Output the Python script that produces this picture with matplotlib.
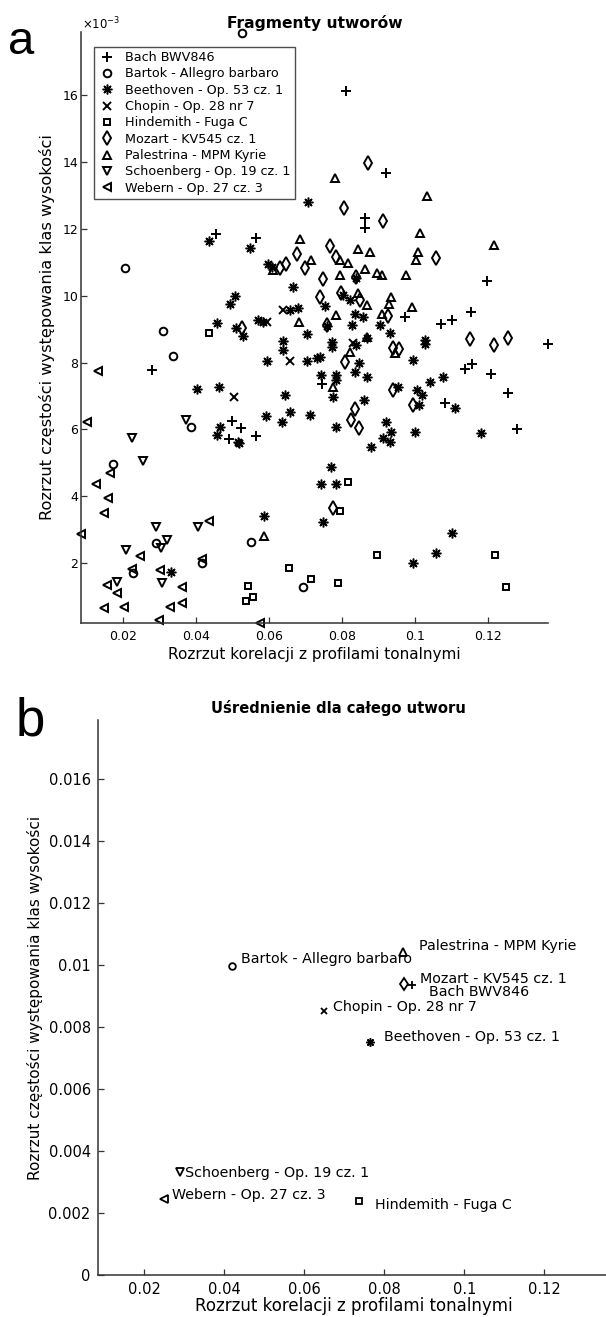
import matplotlib
matplotlib.use("Agg")
import matplotlib.pyplot as plt
from matplotlib.ticker import FuncFormatter, FixedLocator

plt.rcParams['font.family'] = ['DejaVu Sans']

# ---------------- data: panel a (y in units of 1e-3) ----------------
series_names = ["Bach BWV846", "Bartok - Allegro barbaro", "Beethoven - Op. 53 cz. 1",
                "Chopin - Op. 28 nr 7", "Hindemith - Fuga C", "Mozart - KV545 cz. 1",
                "Palestrina - MPM Kyrie", "Schoenberg - Op. 19 cz. 1", "Webern - Op. 27 cz. 3"]

bach_x = [0.0811, 0.0922, 0.0864, 0.0864, 0.1198, 0.1155, 0.1101, 0.1071, 0.0973, 0.0455,
          0.0566, 0.0279, 0.0499, 0.0523, 0.0490, 0.0566, 0.1365, 0.1137, 0.1158, 0.1208,
          0.1256, 0.1281, 0.1084, 0.0746]
bach_y = [16.13, 13.68, 12.31, 12.02, 10.44, 9.50, 9.27, 9.15, 9.37, 11.84,
          11.72, 7.78, 6.26, 6.03, 5.70, 5.80, 8.55, 7.80, 7.95, 7.65,
          7.08, 6.00, 6.78, 7.36]

bartok_x = [0.0527, 0.0205, 0.0309, 0.0336, 0.0386, 0.0173, 0.0290, 0.0227, 0.0418, 0.0551, 0.0694]
bartok_y = [17.85, 10.82, 8.94, 8.20, 6.06, 4.96, 2.59, 1.70, 1.99, 2.64, 1.30]

beet_x = [0.0706, 0.0436, 0.0548, 0.0597, 0.0608, 0.0667, 0.0507, 0.0493, 0.0459, 0.0510,
          0.0530, 0.0571, 0.0584, 0.0705, 0.0639, 0.0639, 0.0596, 0.0705, 0.0731, 0.0740,
          0.0772, 0.0772, 0.0829, 0.0847, 0.0836, 0.0868, 0.0742, 0.0783, 0.0783, 0.0776,
          0.0861, 0.0644, 0.0404, 0.0464, 0.0658, 0.0591, 0.0635, 0.0712, 0.0785, 0.0466,
          0.0457, 0.0516, 0.0519, 0.0760, 0.0932, 0.1027, 0.1027, 0.0995, 0.0954, 0.1006,
          0.1021, 0.1041, 0.1078, 0.1012, 0.1111, 0.0922, 0.0936, 0.0913, 0.0932, 0.1000,
          0.0881, 0.1181, 0.0770, 0.0742, 0.0785, 0.0747, 0.0994, 0.1059, 0.1101, 0.0587,
          0.0333, 0.0904, 0.0840, 0.0658, 0.0680, 0.0804, 0.0822, 0.0753, 0.0836, 0.0840,
          0.0868, 0.0858]
beet_y = [12.81, 11.65, 11.44, 10.96, 10.86, 10.25, 9.99, 9.74, 9.19, 9.03,
          8.80, 9.27, 9.22, 8.85, 8.65, 8.38, 8.06, 8.06, 8.13, 8.18,
          8.62, 8.48, 9.12, 8.00, 7.73, 7.58, 7.63, 7.63, 7.48, 6.98,
          6.88, 7.03, 7.21, 7.28, 6.53, 6.40, 6.21, 6.42, 6.08, 6.06,
          5.83, 5.63, 5.59, 9.10, 8.88, 8.67, 8.55, 8.08, 7.28, 7.18,
          7.03, 7.43, 7.58, 6.73, 6.65, 6.23, 5.93, 5.73, 5.63, 5.93,
          5.48, 5.88, 4.89, 4.36, 4.36, 3.24, 2.01, 2.31, 2.91, 3.41,
          1.73, 9.12, 8.52, 9.57, 9.62, 10.02, 9.87, 9.70, 9.44, 10.52,
          8.73, 9.37]

chopin_x = [0.0504, 0.0659, 0.0594, 0.0639, 0.0831]
chopin_y = [6.98, 8.06, 9.22, 9.57, 8.58]

hind_x = [0.0436, 0.0817, 0.0795, 0.0895, 0.1221, 0.1251, 0.0656, 0.0715, 0.0790, 0.0543,
          0.0557, 0.0537]
hind_y = [8.88, 4.42, 3.56, 2.24, 2.24, 1.30, 1.85, 1.52, 1.40, 1.33,
          1.00, 0.87]

mozart_x = [0.0872, 0.0805, 0.0913, 0.0767, 0.0676, 0.0785, 0.1059, 0.0700, 0.0648, 0.0630,
            0.0749, 0.0740, 0.0799, 0.0849, 0.0927, 0.0760, 0.0525, 0.0808, 0.0941, 0.0957,
            0.1151, 0.1217, 0.1254, 0.0941, 0.0995, 0.0837, 0.0826, 0.0848, 0.0776, 0.0838]
mozart_y = [13.98, 12.61, 12.23, 11.49, 11.24, 11.17, 11.12, 10.84, 10.95, 10.82,
            10.49, 9.97, 10.07, 9.87, 9.39, 9.12, 9.03, 8.03, 8.43, 8.40,
            8.70, 8.53, 8.73, 7.18, 6.73, 6.60, 6.28, 6.05, 3.66, 10.55]

pal_x = [0.0781, 0.1032, 0.1014, 0.0685, 0.1217, 0.0843, 0.0877, 0.1009, 0.1003, 0.0715,
         0.0795, 0.0817, 0.0612, 0.0863, 0.0795, 0.0895, 0.0911, 0.0977, 0.0845, 0.0934,
         0.0929, 0.0993, 0.0868, 0.0909, 0.0785, 0.0683, 0.0822, 0.0945, 0.0776, 0.0587,
         0.0869]
pal_y = [13.51, 12.98, 11.88, 11.70, 11.52, 11.39, 11.32, 11.32, 11.07, 11.07,
         11.07, 10.97, 10.77, 10.79, 10.62, 10.69, 10.62, 10.62, 10.07, 9.97,
         9.75, 9.67, 9.72, 9.45, 9.42, 9.22, 8.33, 8.30, 7.28, 2.81,
         8.77]

schoen_x = [0.0372, 0.0224, 0.0254, 0.0290, 0.0304, 0.0322, 0.0405, 0.0207, 0.0306, 0.0183]
schoen_y = [6.28, 5.73, 5.06, 3.09, 2.44, 2.69, 3.09, 2.39, 1.40, 1.45]

webern_x = [0.0085, 0.0102, 0.0132, 0.0164, 0.0126, 0.0158, 0.0149, 0.0437, 0.0248, 0.0224,
            0.0417, 0.0301, 0.0361, 0.0157, 0.0184, 0.0149, 0.0204, 0.0329, 0.0361, 0.0299,
            0.0575]
webern_y = [2.86, 6.21, 7.76, 4.71, 4.37, 3.94, 3.51, 3.26, 2.21, 1.82,
            2.11, 1.79, 1.30, 1.35, 1.10, 0.65, 0.68, 0.68, 0.82, 0.30,
            0.20]

# ---------------- data: panel b (whole-piece averages) ----------------
avg_x = [0.0868, 0.0418, 0.0764, 0.0649, 0.0737, 0.0848, 0.0846, 0.0289, 0.0249]
avg_y = [0.00935, 0.00995, 0.00751, 0.00853, 0.00239, 0.00939, 0.01043, 0.00333, 0.00244]

xticks = [0.02, 0.04, 0.06, 0.08, 0.1, 0.12]
yticks_a = [2, 4, 6, 8, 10, 12, 14, 16]
yticks_b = [0, 0.002, 0.004, 0.006, 0.008, 0.01, 0.012, 0.014, 0.016]

# ---------------- styling ----------------
ASTER = (8, 2, 0)
markers = ['+', 'o', ASTER, 'x', 's', 'd', '^', 'v', '<']
msizes_a = [7, 5.5, 7, 5.5, 4.5, 7.5, 5.5, 5.5, 5.5]
mews_a = [1.4, 1.4, 1.1, 1.4, 1.4, 1.4, 1.4, 1.4, 1.4]
msizes_b = [6, 4.8, 6, 4.5, 4, 6.5, 5.2, 5.2, 5.2]
mews_b = [1.3, 1.3, 1.1, 1.3, 1.3, 1.3, 1.3, 1.3, 1.3]
label_offsets = [(12.7, -5), (6.7, 5.5), (10.4, 4), (6.8, 2.7), (11.3, -2.9),
                 (11.7, 3.6), (11.5, 4.3), (3.6, -0.9), (5.5, 3.1)]

series = [(bach_x, bach_y), (bartok_x, bartok_y), (beet_x, beet_y), (chopin_x, chopin_y),
          (hind_x, hind_y), (mozart_x, mozart_y), (pal_x, pal_y), (schoen_x, schoen_y),
          (webern_x, webern_y)]

W, H = 606, 1317
fig = plt.figure(figsize=(W / 100, H / 100), dpi=100)

fmt_g = FuncFormatter(lambda v, p: "%g" % v)

def style_axes(ax, fs):
    for s in ['top', 'right']:
        ax.spines[s].set_visible(False)
    for s in ['left', 'bottom']:
        ax.spines[s].set_color('#333333')
        ax.spines[s].set_linewidth(1.1)
    ax.tick_params(direction='in', length=4, width=0.9, color='#333333', labelsize=fs)

# ---------------- panel a ----------------
axa = fig.add_axes([81 / W, 1 - 623.3 / H, 467 / W, 591.7 / H])
handles = []
for (xs, ys), name, mk, ms, mew in zip(series, series_names, markers, msizes_a, mews_a):
    h, = axa.plot(xs, ys, linestyle='none', marker=mk, markersize=ms,
                  markeredgewidth=mew, markeredgecolor='black',
                  markerfacecolor='none', label=name, clip_on=False)
    handles.append(h)
axa.set_xlim(0.0085, 0.1365)
axa.set_ylim(0.2, 17.9)
style_axes(axa, 9)
axa.xaxis.set_major_locator(FixedLocator(xticks))
axa.yaxis.set_major_locator(FixedLocator(yticks_a))
axa.xaxis.set_major_formatter(fmt_g)
axa.yaxis.set_major_formatter(fmt_g)
axa.tick_params(axis='y', pad=2)
axa.tick_params(axis='x', pad=5)
leg = axa.legend(handles=handles, loc='upper left', bbox_to_anchor=(13 / 467, 1 - 15 / 591.7),
                 borderaxespad=0, fontsize=9.2, frameon=True, fancybox=False,
                 labelspacing=0.26, handlelength=1.3, handletextpad=0.8, borderpad=0.35)
leg.get_frame().set_edgecolor('#222222')
leg.get_frame().set_linewidth(1.0)
axa.set_xlabel("Rozrzut korelacji z profilami tonalnymi", fontsize=11, labelpad=3)
axa.set_ylabel("Rozrzut częstości występowania klas wysokości", fontsize=11.7, labelpad=5)
fig.text(315 / W, 1 - 23 / H, "Fragmenty utworów", ha='center', va='center',
         fontsize=11.2, fontweight='bold')
fig.text(82 / W, 1 - 24 / H, r"$\times 10^{-3}$", ha='left', va='center', fontsize=8.5)
fig.text(21 / W, 1 - 42 / H, "a", ha='center', va='center', fontsize=34,
         family='Liberation Sans')

# ---------------- panel b ----------------
axb = fig.add_axes([98.3 / W, 1 - 1275 / H, 512 / W, 555 / H])
for x, y, name, mk, ms, mew, off in zip(avg_x, avg_y, series_names, markers, msizes_b,
                                        mews_b, label_offsets):
    axb.plot([x], [y], linestyle='none', marker=mk, markersize=ms, markeredgewidth=mew,
             markeredgecolor='black', markerfacecolor='none')
    axb.annotate(name, (x, y), xytext=off, textcoords='offset points',
                 ha='left', va='center', fontsize=10.3)
axb.set_xlim(0.0085, 0.1365)
axb.set_ylim(0, 0.0179)
style_axes(axb, 10.5)
axb.xaxis.set_major_locator(FixedLocator(xticks))
axb.yaxis.set_major_locator(FixedLocator(yticks_b))
axb.xaxis.set_major_formatter(fmt_g)
axb.yaxis.set_major_formatter(fmt_g)
axb.tick_params(axis='y', pad=5.5)
axb.tick_params(axis='x', pad=5)
axb.set_xlabel("Rozrzut korelacji z profilami tonalnymi", fontsize=12, labelpad=0)
axb.set_ylabel("Rozrzut częstości występowania klas wysokości", fontsize=11, labelpad=4)
fig.text(338 / W, 1 - 708 / H, "Uśrednienie dla całego utworu", ha='center', va='center',
         fontsize=10.6, fontweight='bold')
fig.text(30 / W, 1 - 722 / H, "b", ha='center', va='center', fontsize=38,
         family='Liberation Sans')

fig.savefig("out.png", dpi=100)
